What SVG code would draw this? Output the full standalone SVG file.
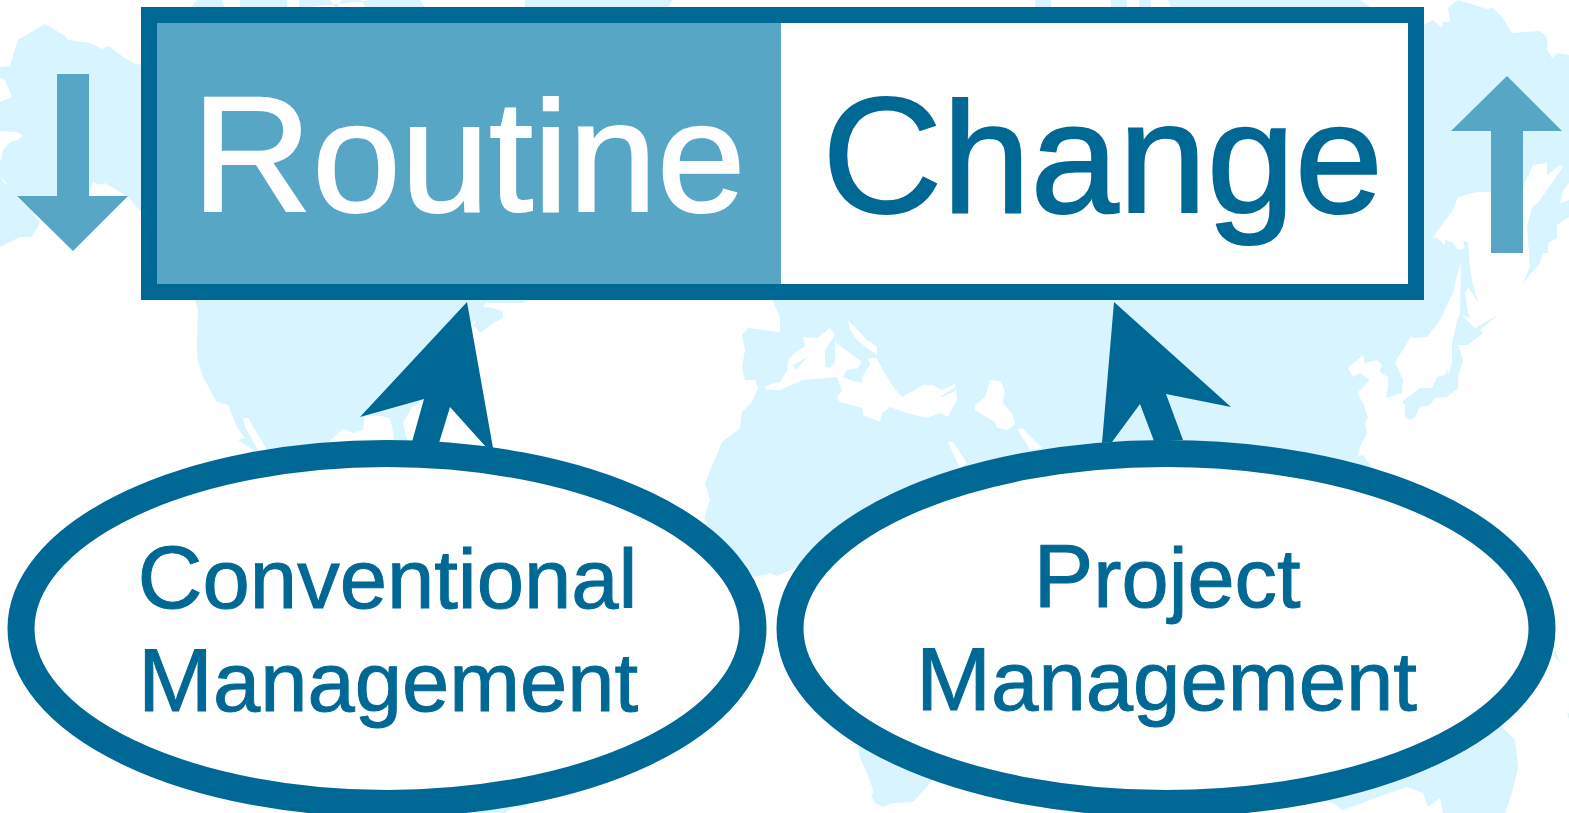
<svg xmlns="http://www.w3.org/2000/svg" width="1569" height="813" viewBox="0 0 1569 813">
<style>
.land{fill:#d7f4ff}
.sea{fill:#fff}
.dark{fill:#006894}
.mid{fill:#57a6c6}
.t{font-family:"Liberation Sans",Arial,sans-serif;text-anchor:middle}
.big{font-size:157px;stroke-width:2}
.cap{font-size:165px}
.lab{font-size:84px;fill:#006894;stroke:#006894;stroke-width:1}
.capl{font-size:89px}
</style>
<rect width="1569" height="813" fill="#fff"/>
<g id="map">
<path class="land" d="M0 67L10 66L18 40L45 24L65 36L68 40L90 43L102 49L108 46L125 58L135 64L145 65V212H141L128 197L105 183L98 185L93 181L89 196L73 230L33 214L0 240V176L4 183L18 188L17 197L33 214L40 222L32 237L20 237L0 247V240L33 214L0 176V163L3 150L10 142L18 140L23 135L17 132L0 131V102L12 97L5 80L0 78Z"/>
<path class="land" d="M190 295L195 300L198 310L197 337L197 357L203 377L217 402L228 405L237 427L245 438L238 440L253 450L300 470L327 443L343 429L353 433L363 430L365 416L380 416L390 418L394 437L393 460L412 460L403 423L412 407L424 400L450 350L472 323L477 320L473 325L480 333L493 323L503 318L503 312L493 308L483 307L486 303L525 303V295Z"/>
<path class="sea" d="M243 418L248 418L267 450L258 450L245 427Z"/>
<path class="land" d="M190 8L197 0H222L225 8ZM240 8V0H287V8ZM299 8V0H330L336 8L342 0H361L366 8H425L420 0H372ZM525 8V0H672L668 8ZM1035 8V0H1051V8ZM1111 8V0H1127V8ZM1139 8V0H1151V8ZM1171 8L1168 0H1360L1372 8Z"/>
<path class="land" d="M770 295L780 317L780 332L748 328L742 335L745 350L742 367L745 380L755 380L758 388L752 402L742 412L740 428L722 442L705 483L710 500L704 518L730 560L755 577L770 573L777 576L800 566L857 743L860 758L867 773L873 790L872 797L875 803L883 807L893 803L913 802L933 780L1000 700L1333 803L1343 810L1357 805L1378 797L1407 787L1423 793L1428 807L1440 798L1443 813H1505L1512 793L1518 767L1515 740L1503 728L1400 500L1368 462L1363 455L1357 457L1360 447L1367 433L1365 423L1368 417L1363 403L1357 393L1370 380L1360 373L1353 377L1348 368L1363 355L1365 363L1377 360L1382 365L1380 372L1388 377L1388 388L1386 398L1402 393L1403 380L1395 362L1405 347L1410 337L1415 338L1427 337L1440 320L1453 293L1455 283L1461 263L1460 315L1458 317L1452 343L1452 363L1448 375L1447 368L1445 375L1437 377L1432 388L1420 388L1408 397L1402 402L1405 405L1405 417L1410 420L1415 417L1420 407L1430 405L1435 398L1447 397L1458 388L1458 377L1463 360L1458 345L1468 345L1483 333L1480 330L1498 315L1475 328L1462 315L1470 318L1468 312L1467 307L1465 293L1468 287L1478 302L1472 280L1470 267L1468 243L1463 240L1465 248L1458 250L1452 242L1445 240L1445 245L1440 240L1433 237L1453 210L1458 197L1477 192L1490 192L1523 187L1533 165L1547 163L1547 175L1560 165L1563 167L1538 203L1532 207L1527 227L1530 267L1523 283L1540 263L1543 253L1548 253L1548 243L1557 238L1557 225L1569 217V55L1557 53L1552 58L1547 50L1547 37L1540 31L1512 33L1502 17L1493 8L1487 9L1458 0L1448 8L1450 22L1443 22L1442 28L1433 20L1424 25V295Z"/>
<path class="land" d="M470 813L478 790H525L532 800L525 808L515 806L505 813Z"/>
<path class="land" d="M1555 650L1560 663L1553 655ZM1567 713L1569 720V713Z"/>
<path class="sea" d="M1560 203L1563 190L1569 183V200Z"/>
<path class="sea" d="M764 387L772 384L780 382L787 370L788 360L798 350L805 347L803 337L817 338L830 328L835 335L825 350L825 367L830 368L835 362L835 342L843 348L862 362L858 368L847 370L843 377L850 380L862 383L862 377L870 365L868 358L877 358L883 370L892 385L902 397L923 385L933 385L942 390L955 384L957 400L948 417L940 413L927 418L907 413L890 407L882 413L880 422L863 415L862 408L840 402L837 398L842 390L837 377L803 380L780 390L767 390Z"/>
<path class="land" d="M793 365L808 357L795 370ZM940 397L955 387L955 391L942 397Z"/>
<path class="sea" d="M848 320L855 327L867 340L877 347L877 355L867 348L857 340L850 330Z"/>
<path class="sea" d="M990 380L1000 381L1005 390L1003 403L1013 415L1015 424L1007 430L997 428L995 422L975 410L975 405L985 397Z"/>
<path class="sea" d="M948 442L953 442L967 463L960 468Z"/>
<path class="sea" d="M1018 430L1022 428L1042 448L1030 450Z"/>
</g>
<g id="routine-change">
<rect class="dark" x="141" y="7" width="1283" height="293"/>
<rect class="mid" x="157" y="23" width="624" height="261"/>
<rect x="781" y="23" width="627" height="261" fill="#fff"/>
<text class="t big" x="468.5" y="211" fill="#fff" stroke="#fff" textLength="554" lengthAdjust="spacingAndGlyphs"><tspan class="cap">R</tspan>outine</text>
<text class="t big" x="1102.5" y="212" fill="#006894" stroke="#006894" textLength="561" lengthAdjust="spacingAndGlyphs"><tspan class="cap">C</tspan>hange</text>
</g>
<g id="arrow-down"><path class="mid" d="M57 74H89V196H128L73 251L17 196H57Z"/></g>
<g id="arrow-up"><path class="mid" d="M1507 76L1562 131H1523V253H1491V131H1451Z"/></g>
<g id="connectors">
<path class="dark" d="M467 302L493 448L486 447L450 407L439 443L412 442L424 399L360 417Z"/>
<path class="dark" d="M1114 302L1231 407L1166 394L1183 440L1154 441L1140 404L1112 442L1102 443Z"/>
</g>
<g id="conventional">
<ellipse cx="387" cy="628.5" rx="366" ry="175" fill="#fff" stroke="#006894" stroke-width="27"/>
<text class="t lab" x="387.5" y="607.5" textLength="500" lengthAdjust="spacingAndGlyphs"><tspan class="capl">C</tspan>onventional</text>
<text class="t lab" x="388" y="710.5" textLength="500" lengthAdjust="spacingAndGlyphs"><tspan class="capl">M</tspan>anagement</text>
</g>
<g id="project">
<ellipse cx="1166" cy="628.5" rx="376" ry="175" fill="#fff" stroke="#006894" stroke-width="27"/>
<text class="t lab" x="1167" y="606.5" textLength="267" lengthAdjust="spacingAndGlyphs"><tspan class="capl">P</tspan>roject</text>
<text class="t lab" x="1166.5" y="709.5" textLength="501" lengthAdjust="spacingAndGlyphs"><tspan class="capl">M</tspan>anagement</text>
</g>
</svg>
